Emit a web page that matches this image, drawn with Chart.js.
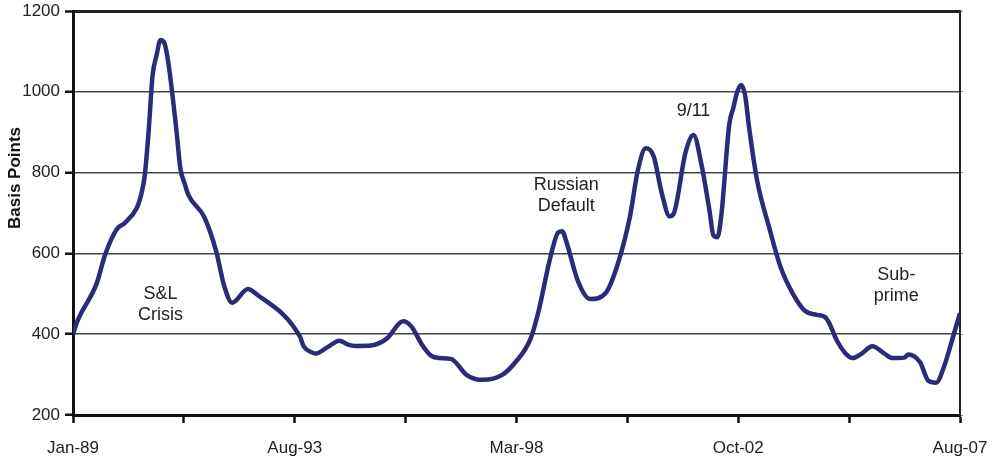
<!DOCTYPE html>
<html>
<head>
<meta charset="utf-8">
<script src="https://cdn.jsdelivr.net/npm/chart.js@4"></script>
<style>
  body { margin: 0; background: #fff; }
  #wrap { width: 995px; height: 463px; position: relative; }
</style>
</head>
<body>
<div id="wrap"><canvas id="myChart"></canvas></div>
<script>
// months counted from Jan-89 (0) to Aug-07 (223)
const months = [0, 1, 6, 8, 11, 13, 16, 17, 18, 19, 20, 21, 22, 23, 24, 26, 27, 28, 29, 33,
  36, 38, 40, 44, 46, 57, 58, 60, 61, 64, 67, 69, 71, 75, 77, 79, 83, 85, 88, 90,
  92, 95, 99, 103, 108, 111, 115, 117, 120, 122, 123, 124, 127, 130, 134, 137, 140, 142, 144, 146,
  148, 150, 151, 154, 156, 158, 160, 161, 162, 163, 165, 166, 167, 168, 169, 170, 172, 175, 178, 181,
  184, 187, 189, 190, 192, 194, 196, 198, 201, 204, 206, 209, 210, 213, 215, 217, 219, 221, 223];

const spreads = [400, 430, 527, 595, 660, 675, 712, 740, 790, 900, 1040, 1090, 1128, 1120, 1070, 905, 810, 775, 745, 690,
  605, 520, 478, 512, 500, 395, 370, 355, 352, 368, 384, 375, 371, 372, 378, 390, 432, 420, 370, 347,
  341, 339, 299, 287, 300, 328, 388, 455, 590, 652, 655, 630, 530, 487, 503, 575, 690, 805, 860, 840,
  750, 692, 698, 850, 893, 820, 707, 645, 640, 695, 920, 960, 1000, 1017, 990, 910, 780, 665, 563, 500,
  458, 448, 443, 430, 385, 355, 341, 350, 370, 352, 341, 342, 350, 330, 285, 280, 320, 385, 452];

const tickLabels = ['Jan-89', 'Aug-93', 'Mar-98', 'Oct-02', 'Aug-07'];

const notes = ['S&L\nCrisis', 'Russian\nDefault', '9/11', 'Sub-\nprime'];
// where each note sits: month, basis points
const notePos = [[22, 500], [124, 768], [156, 952], [207, 547]];

const FONT = "'Liberation Sans', Arial, sans-serif";
const lastMonth = 223;

const notesPlugin = {
  id: 'notes',
  afterDraw(chart) {
    const c = chart.ctx;
    const xs = chart.scales.x, ys = chart.scales.y;
    c.save();
    c.fillStyle = '#222';
    c.font = '18px ' + FONT;
    c.textAlign = 'center';
    c.textBaseline = 'middle';
    notes.forEach((txt, i) => {
      const px = xs.getPixelForValue(notePos[i][0]);
      const py = ys.getPixelForValue(notePos[i][1]);
      txt.split('\n').forEach((line, j) => c.fillText(line, px, py + j * 21));
    });
    // axis title
    c.translate(15, 178);
    c.rotate(-Math.PI / 2);
    c.font = 'bold 17px ' + FONT;
    c.fillStyle = '#111';
    c.fillText('Basis Points', 0, 0);
    c.restore();
  }
};

const ctx = document.getElementById('myChart').getContext('2d');
new Chart(ctx, {
  type: 'line',
  data: {
    datasets: [{
      label: 'spread',
      data: months.map((m, i) => ({ x: m, y: spreads[i] })),
      borderColor: '#2a2c78',
      borderWidth: 4.5,
      pointRadius: 0,
      cubicInterpolationMode: 'monotone',
      fill: false
    }]
  },
  options: {
    responsive: true,
    maintainAspectRatio: false,
    animation: false,
    layout: { padding: { left: 0, right: 31, top: 11, bottom: 0 } },
    plugins: { legend: { display: false }, tooltip: { enabled: false } },
    scales: {
      x: {
        type: 'linear',
        min: 0,
        max: lastMonth,
        afterBuildTicks: axis => {
          const step = lastMonth / 8;
          axis.ticks = [0, 1, 2, 3, 4, 5, 6, 7, 8].map(i => ({ value: i * step }));
        },
        afterFit: axis => { axis.height = 48; axis.paddingLeft = 0; axis.paddingRight = 0; },
        ticks: {
          autoSkip: false,
          maxRotation: 0,
          padding: 15,
          color: '#222',
          font: { family: FONT, size: 17 },
          callback: (v, i) => (i % 2 === 0 ? tickLabels[i / 2] : '')
        },
        grid: { drawOnChartArea: false, tickLength: 8, tickColor: '#111', tickWidth: 2.5 },
        border: { color: '#111', width: 3 }
      },
      y: {
        min: 200,
        max: 1200,
        afterFit: axis => { axis.width = 73; axis.paddingTop = 0; axis.paddingBottom = 0; },
        ticks: {
          stepSize: 200,
          padding: 5,
          color: '#222',
          font: { family: FONT, size: 17 },
          callback: v => String(v)
        },
        grid: {
          color: ctx => (ctx.tick && ctx.tick.value === 1200 ? '#222' : '#444'),
          lineWidth: ctx => (ctx.tick && ctx.tick.value === 1200 ? 3 : 1.5),
          tickLength: 8,
          tickColor: '#111',
          tickWidth: 2.5
        },
        border: { color: '#111', width: 3 }
      },
      y2: {
        position: 'right',
        min: 200,
        max: 1200,
        afterFit: axis => { axis.width = 4; axis.paddingTop = 0; axis.paddingBottom = 0; },
        ticks: { display: false, stepSize: 200 },
        grid: { drawOnChartArea: false, tickLength: 3, tickColor: '#888', tickWidth: 1 },
        border: { color: '#222', width: 2 }
      }
    }
  },
  plugins: [notesPlugin]
});
</script>
</body>
</html>
